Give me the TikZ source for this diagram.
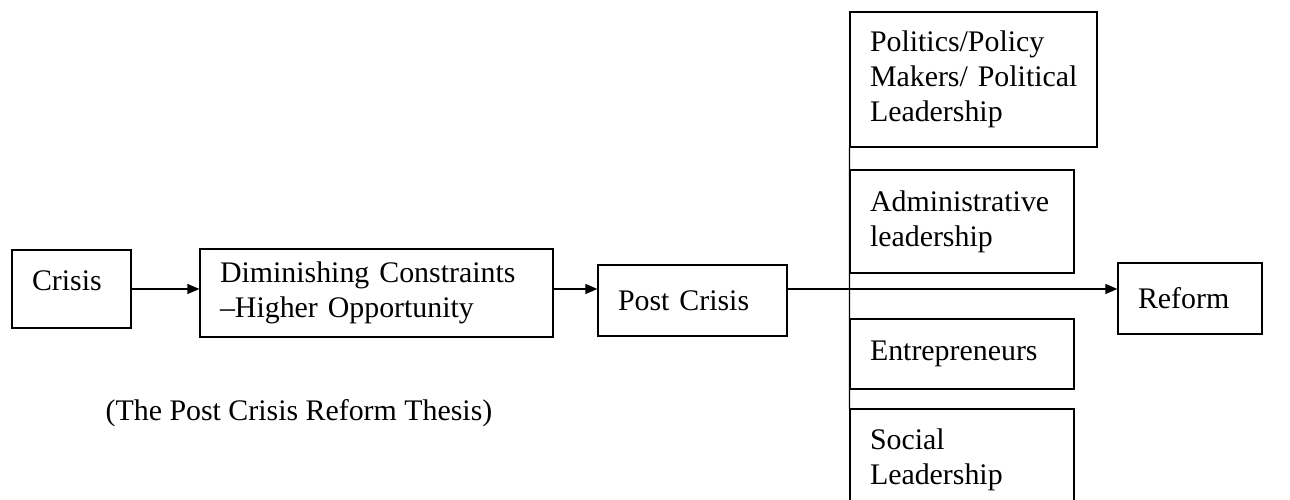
\documentclass[tikz,border=0pt]{standalone}
\usepackage{fontspec}
\setmainfont{Liberation Serif}
\usetikzlibrary{arrows.meta}
\begin{document}
\begin{tikzpicture}[
  block/.style={draw, line width=0.7pt, align=left, inner xsep=0.4cm, font=\fontsize{17}{20}\selectfont},
  link/.style={line width=0.7pt, -{Triangle[length=2.4mm,width=2mm]}}
]
\clip (0,0) rectangle (25.8,10);
\node[block, text width=1.58cm, text depth=0.35cm, minimum height=1.56cm] (crisis) at (1.43,4.22) {Crisis};
\node[block, text width=6.26cm, minimum height=1.76cm] (dimin) at (7.53,4.14) {\mbox{Diminishing Constraints}\\–Higher Opportunity};
\node[block, text width=2.98cm, minimum height=1.42cm] (post) at (13.85,3.99) {Post Crisis};
\node[block, text width=2.08cm, minimum height=1.42cm] (reform) at (23.8,4.03) {Reform};
\node[block, text width=4.14cm, minimum height=2.7cm] (politics) at (19.47,8.41) {Politics/Policy\\\mbox{Makers/ Political}\\Leadership};
\node[block, text width=3.68cm, minimum height=2.06cm] (admin) at (19.24,5.57) {Administrative\\leadership};
\node[block, text width=3.68cm, minimum height=1.4cm] (entre) at (19.24,2.92) {Entrepreneurs};
\node[block, text width=3.68cm, minimum height=2.02cm] (social) at (19.24,0.81) {Social\\Leadership};
\node[font=\fontsize{17}{20}\selectfont] (thesis) at (5.98,1.74) {(The Post Crisis Reform Thesis)};
\draw[link] (crisis.east) -- (crisis.east -| dimin.west);
\draw[link] (dimin.east |- crisis.east) -- (post.west |- crisis.east);
\draw[link] (post.east |- crisis.east) -- (reform.west |- crisis.east);
\draw[line width=0.7pt] (politics.south west) -- (social.north west);
\end{tikzpicture}
\end{document}
